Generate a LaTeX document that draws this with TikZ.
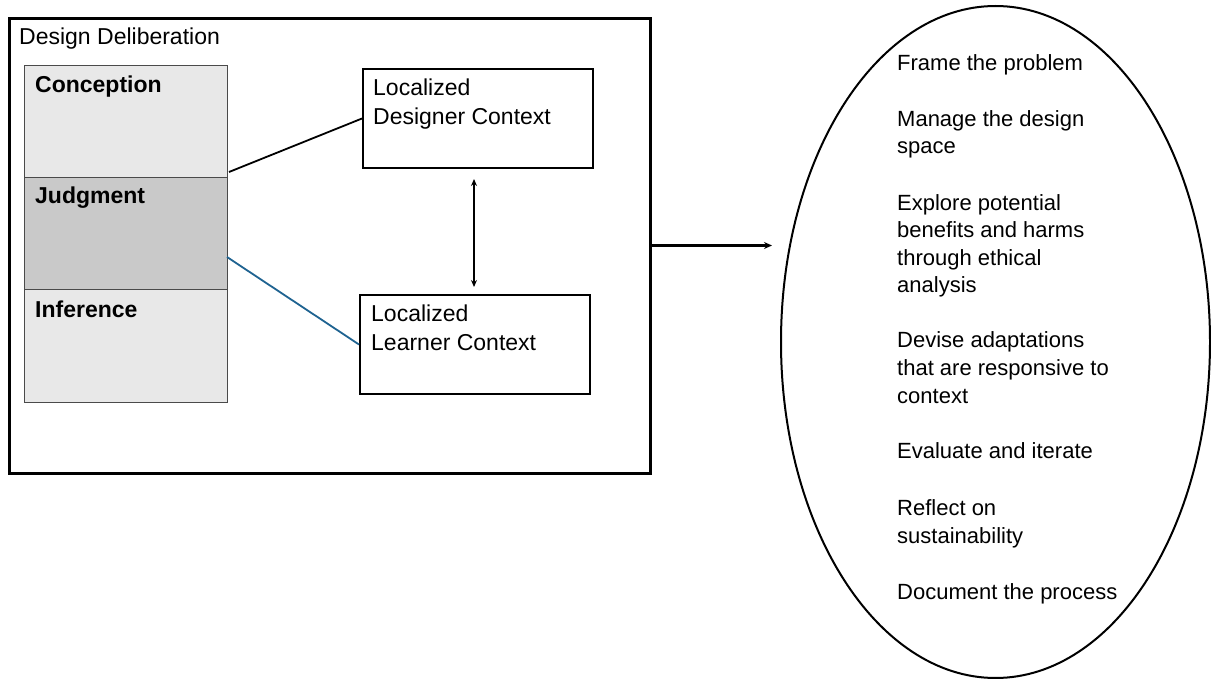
\documentclass[tikz,border=0pt]{standalone}
\usepackage{fontspec}
\setmainfont{Liberation Sans}
\usetikzlibrary{arrows.meta,shapes.geometric}
\definecolor{lightcell}{HTML}{E8E8E8}
\definecolor{darkcell}{HTML}{C9C9C9}
\definecolor{cellborder}{HTML}{4A4A4A}
\definecolor{linkblue}{HTML}{1F6391}
\begin{document}
\begin{tikzpicture}[x=1pt,y=-1pt,
  cell/.style={draw=cellborder, line width=1.2pt, anchor=north west, inner sep=0pt, minimum width=203pt},
  celltext/.style={anchor=base west, inner sep=0pt, font=\fontsize{23}{28}\selectfont\bfseries},
  ctxbox/.style={draw=black, line width=2pt, anchor=north west, inner sep=0pt, minimum width=230pt, minimum height=99pt},
  ctxtext/.style={anchor=base west, inner sep=0pt, align=left, font=\fontsize{23}{29}\selectfont},
  itemtext/.style={anchor=base west, inner sep=0pt, align=left, font=\fontsize{22}{27.6}\selectfont},
  tip/.style={-{Stealth[length=8pt,width=7pt]}},
  ]
\useasboundingbox (0,0) rectangle (1211,679);

% outer frame
\node[draw=black, line width=3pt, anchor=north west, inner sep=0pt,
      minimum width=641pt, minimum height=455pt] (frame) at (8,17) {};
\node[anchor=base west, inner sep=0pt, font=\fontsize{23}{28}\selectfont] (title) at (19,45) {Design Deliberation};

% column cells
\node[cell, fill=lightcell, minimum height=112pt] (conc) at (23.5,65) {};
\node[cell, fill=darkcell, minimum height=112pt] (judg) at (23.5,177) {};
\node[cell, fill=lightcell, minimum height=113pt] (infer) at (23.5,289) {};
\node[celltext] (conct) at (35,93) {Conception};
\node[celltext] (judgt) at (35,204) {Judgment};
\node[celltext] (infert) at (35,317) {Inference};

% context boxes (base anchor = baseline of last line)
\node[ctxbox] (designer) at (362,68) {};
\node[ctxtext] (designert) at (373,125) {Localized\\Designer Context};
\node[ctxbox] (learner) at (359,294) {};
\node[ctxtext] (learnert) at (371,350) {Localized\\Learner Context};

% connectors
\coordinate (c1) at (229,172);
\coordinate (c2) at (227,257);
\draw[black, line width=1.8pt] (c1) -- (designer.west);
\draw[linkblue, line width=1.8pt] (c2) -- (learner.west);
\coordinate (da1) at (474,179);
\coordinate (da2) at (474,287);
\draw[line width=1.6pt, {Stealth[length=7pt,width=6pt]}-{Stealth[length=7pt,width=6pt]}] (da1) -- (da2);

\coordinate (atip) at (772,245.5);
\draw[line width=2.6pt, tip] (frame.east |- atip) -- (atip);

% ellipse
\node[draw=black, line width=2pt, ellipse, inner sep=0pt,
      minimum width=429pt, minimum height=672pt] (ell) at (995.5,342) {};
\node[itemtext] (i1) at (897,71) {Frame the problem};
\node[itemtext] (i2) at (897,154) {Manage the design\\space};
\node[itemtext] (i3) at (897,293) {Explore potential\\benefits and harms\\through ethical\\analysis};
\node[itemtext] (i4) at (897,403) {Devise adaptations\\that are responsive to\\context};
\node[itemtext] (i5) at (897,458) {Evaluate and iterate};
\node[itemtext] (i6) at (897,543) {Reflect on\\sustainability};
\node[itemtext] (i7) at (897,599) {Document the process};
\end{tikzpicture}
\end{document}
